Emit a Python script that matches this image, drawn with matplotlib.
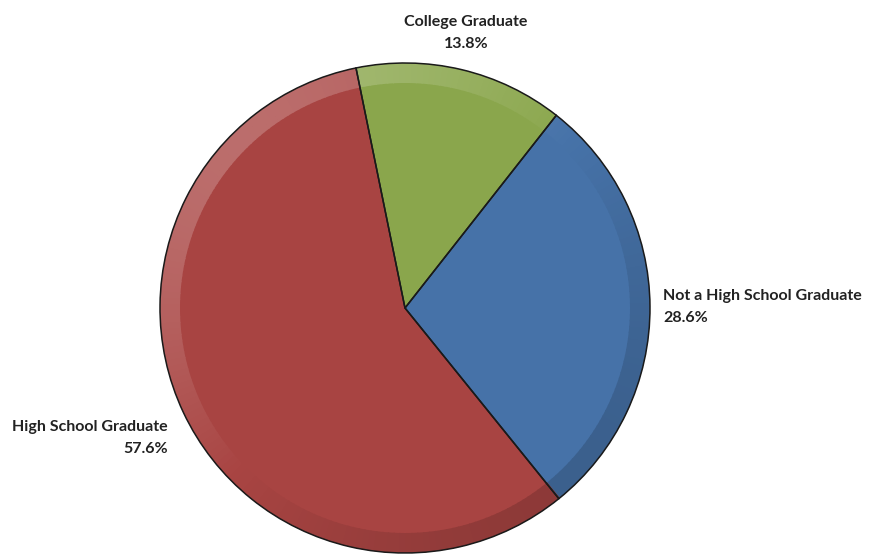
import numpy as np
import matplotlib.pyplot as plt
from matplotlib.patches import Wedge
from matplotlib.colors import to_rgb

labels = ["Not a High School Graduate", "College Graduate", "High School Graduate"]
shares = [28.6, 13.8, 57.6]
colors = ["#4672A8", "#8AA64C", "#A84442"]

W, H = 872, 554
cx, cy, R = 405, 246, 245
rim = 20

fig = plt.figure(figsize=(W / 100, H / 100), dpi=100)
ax = fig.add_axes([0, 0, 1, 1])

wedges, _ = ax.pie(shares, colors=colors, startangle=-51.1, radius=R,
                   center=(cx, cy), frame=True,
                   wedgeprops=dict(edgecolor="none"))
ax.set_xlim(0, W)
ax.set_ylim(0, H)
ax.set_aspect("equal")
ax.axis("off")


def shade(c, k):
    c = np.array(to_rgb(c))
    if k >= 0:
        return tuple(c + (1 - c) * k)
    return tuple(c * (1 + k))


# bevelled rim: lighter toward upper-left, darker toward lower-right
for w, c in zip(wedges, colors):
    t1, t2 = w.theta1, w.theta2
    steps = np.linspace(t1, t2, int((t2 - t1) / 1.5) + 2)
    for a, b in zip(steps[:-1], steps[1:]):
        m = np.radians((a + b) / 2)
        k = np.cos(m - np.radians(135))
        k = 0.22 * k if k > 0 else 0.16 * k
        ax.add_patch(Wedge((cx, cy), R, a, b + 0.3, width=rim,
                           facecolor=shade(c, k), edgecolor="none"))

# slice outlines
for w in wedges:
    ax.add_patch(Wedge((cx, cy), R, w.theta1, w.theta2, facecolor="none",
                       edgecolor="#1a1a1a", linewidth=1.1))

font = dict(family="Lato", fontweight="bold", fontsize=11.5, color="#222222")
ax.text(466, H - 33, f"{labels[1]}\n{shares[1]}%", ha="center", va="center",
        linespacing=1.65, **font)
ax.text(663, H - 307, f"{labels[0]}\n{shares[0]}%", ha="left", va="center",
        linespacing=1.65, **font)
ax.text(168, H - 438, f"{labels[2]}\n{shares[2]}%", ha="right", va="center",
        multialignment="right", linespacing=1.65, **font)

fig.savefig("out.png", dpi=100)
